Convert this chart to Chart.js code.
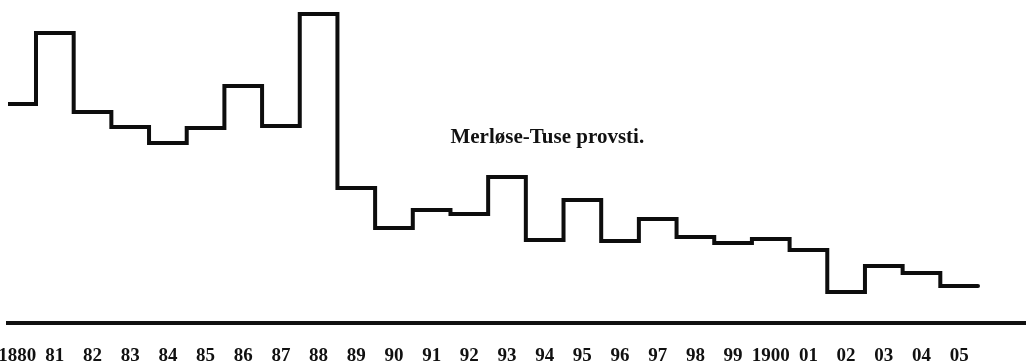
<!DOCTYPE html>
<html>
<head>
<meta charset="utf-8">
<title>Merløse-Tuse provsti.</title>
<script src="https://cdn.jsdelivr.net/npm/chart.js@4/dist/chart.umd.min.js"></script>
<style>
  html, body { margin: 0; padding: 0; background: #ffffff; }
  #wrap { width: 1026px; height: 364px; }
  canvas { display: block; }
</style>
</head>
<body>
<div id="wrap"><canvas id="chart" width="1026" height="364"></canvas></div>
<script>
// Years covered by the series
const years = [1880, 1881, 1882, 1883, 1884, 1885, 1886, 1887, 1888, 1889,
               1890, 1891, 1892, 1893, 1894, 1895, 1896, 1897, 1898, 1899,
               1900, 1901, 1902, 1903, 1904, 1905];

// Tick labels as printed under the axis
const tickLabels = ['1880', '81', '82', '83', '84', '85', '86', '87', '88', '89',
                    '90', '91', '92', '93', '94', '95', '96', '97', '98', '99',
                    '1900', '01', '02', '03', '04', '05'];

// Yearly level for each year
const values = [21.8, 28.9, 21.0, 19.5, 17.9, 19.4, 23.6, 19.6, 30.8, 13.4,
                9.4, 11.2, 10.8, 14.5, 8.2, 12.2, 8.1, 10.3, 8.5, 7.9,
                8.3, 7.2, 3.0, 5.6, 4.9, 3.6];

const chartTitle = 'Merløse-Tuse provsti.';

// Each year's level is held across its own year interval
const stepPoints = years.map((yr, i) => ({ x: yr - 0.5, y: values[i] }));
stepPoints.push({ x: years[years.length - 1] + 0.5, y: values[values.length - 1] });

const serif = "'Liberation Serif', 'DejaVu Serif', serif";

// Caption written inside the plot area
const captionPlugin = {
  id: 'caption',
  afterDatasetsDraw(chart) {
    const { ctx, scales } = chart;
    const x = scales.x.getPixelForValue(1891.5);
    const y = scales.y.getPixelForValue(17.9);
    ctx.save();
    ctx.fillStyle = '#111111';
    ctx.font = 'bold 21px ' + serif;
    ctx.textAlign = 'left';
    ctx.textBaseline = 'alphabetic';
    ctx.fillText(chartTitle, x, y);
    ctx.restore();
  }
};

new Chart(document.getElementById('chart'), {
  type: 'line',
  data: {
    datasets: [{
      data: stepPoints,
      stepped: true,
      borderColor: '#0d0d0d',
      borderWidth: 4,
      borderCapStyle: 'round',
      borderJoinStyle: 'miter',
      pointRadius: 0,
      fill: false
    }]
  },
  options: {
    responsive: false,
    devicePixelRatio: 1,
    animation: false,
    events: [],
    layout: {
      autoPadding: false,
      padding: { left: 8, right: 0, top: 0, bottom: 1 }
    },
    plugins: {
      legend: { display: false },
      tooltip: { enabled: false },
      title: { display: false }
    },
    scales: {
      x: {
        type: 'linear',
        min: 1879.757,
        max: 1906.774,
        grid: { display: false },
        border: { display: true, color: '#111111', width: 4 },
        afterBuildTicks(scale) {
          scale.ticks = years.map(v => ({ value: v }));
        },
        afterFit(scale) {
          // fixed band for the year labels; the first label may run off the left edge
          scale.height = 40;
          scale.paddingLeft = 0;
          scale.paddingRight = 0;
        },
        ticks: {
          autoSkip: false,
          maxRotation: 0,
          padding: 14,
          color: '#111111',
          font: { family: serif, size: 19, weight: 'bold' },
          callback(value, index) { return tickLabels[index]; }
        }
      },
      y: {
        display: false,
        min: -0.1,
        max: 32.2
      }
    }
  },
  plugins: [captionPlugin]
});
</script>
</body>
</html>
